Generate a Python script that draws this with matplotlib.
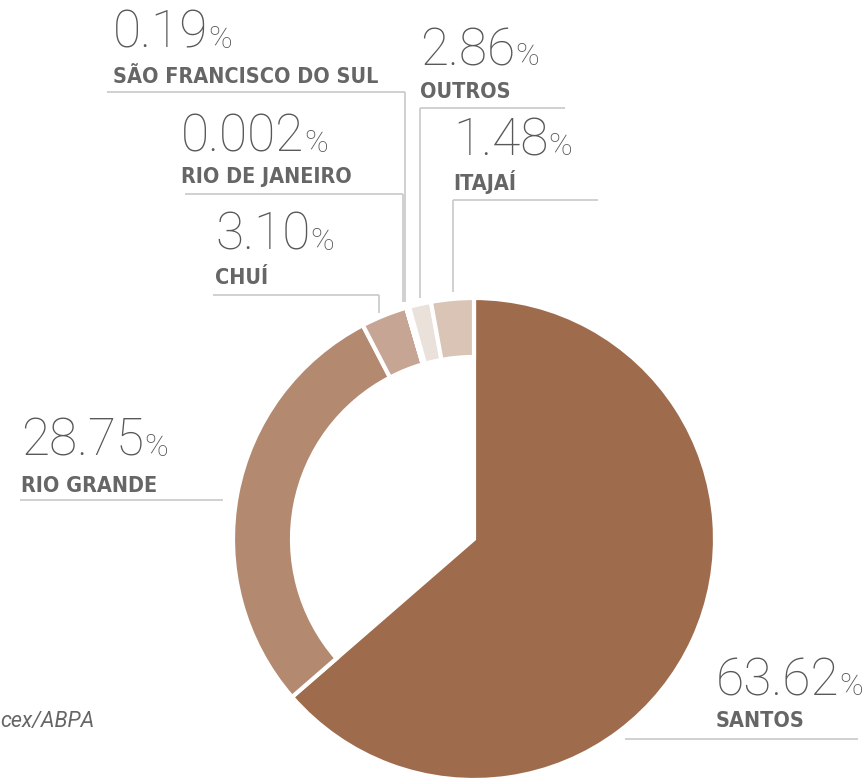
import matplotlib
matplotlib.use("Agg")
import matplotlib.pyplot as plt

ports = ["SANTOS", "RIO GRANDE", "CHUÍ", "RIO DE JANEIRO",
         "SÃO FRANCISCO DO SUL", "ITAJAÍ", "OUTROS"]
share_txt = ["63.62", "28.75", "3.10", "0.002", "0.19", "1.48", "2.86"]
shares = [float(s) for s in share_txt]
colors = ["#9e6c4d", "#b38970", "#c6a594", "#efe6e1", "#efe6e1", "#ebe1db", "#d9c4b6"]

W, H = 865, 782
INK, RULE = "#666666", "#c8c8c8"

fig = plt.figure(figsize=(W / 100, H / 100), dpi=100)
ax = fig.add_axes([0, 0, 1, 1])

def Y(y):  # pixel row (from top) -> data y
    return H - y

wedges, _ = ax.pie(shares, colors=colors, startangle=90, counterclock=False,
                   center=(474, Y(539)), radius=241,
                   wedgeprops=dict(edgecolor="white", linewidth=3))
for w in wedges[1:]:
    w.set_width(59)

ax.set_xlim(0, W); ax.set_ylim(0, H)
ax.set_aspect("equal"); ax.axis("off")

NUM = dict(family="Roboto", weight="light", color="#585858")
LAB = dict(family="DejaVu Sans", stretch="condensed", weight="bold",
           color=INK, fontsize=15.5)

# number x / baseline, label baseline, rule y, rule x0..x1, leader end y
layout = {
    "SÃO FRANCISCO DO SUL": (113, 48, 83, 92, 107, 405, 302),
    "OUTROS":               (420, 65, 98, 108, 420, 565, 298),
    "RIO DE JANEIRO":       (181, 152, 183, 194, 185, 403, 302),
    "ITAJAÍ":               (453, 155, 190, 200, 453, 598, 292),
    "CHUÍ":                 (215, 250, 284, 295, 213, 379, 313),
    "RIO GRANDE":           (21, 456, 492, 500, 20, 223, None),
    "SANTOS":               (716, 695, 727, 739, 625, 858, None),
}
drop_right = ("SÃO FRANCISCO DO SUL", "RIO DE JANEIRO", "CHUÍ")

fig.canvas.draw()
r = fig.canvas.get_renderer()
for name, txt in zip(ports, share_txt):
    x, yb, yl, yr, x0, x1, ydrop = layout[name]
    t = ax.text(x, Y(yb), txt, ha="left", va="baseline", fontsize=37, **NUM)
    bb = t.get_window_extent(renderer=r)
    ax.text(bb.x1, Y(yb), "%", ha="left", va="baseline", fontsize=23, **NUM)
    ax.text(x, Y(yl), name, ha="left", va="baseline", **LAB)
    ax.plot([x0, x1], [Y(yr), Y(yr)], color=RULE, lw=1.2, solid_capstyle="butt")
    if ydrop is not None:
        xd = x1 if name in drop_right else x0
        ax.plot([xd, xd], [Y(yr), Y(ydrop)], color=RULE, lw=1.2, solid_capstyle="butt")

ax.text(0, Y(722), "cex/ABPA", ha="left", va="center", fontsize=15.5,
        style="italic", color=INK, family="Roboto")

fig.savefig("out.png", dpi=100)
